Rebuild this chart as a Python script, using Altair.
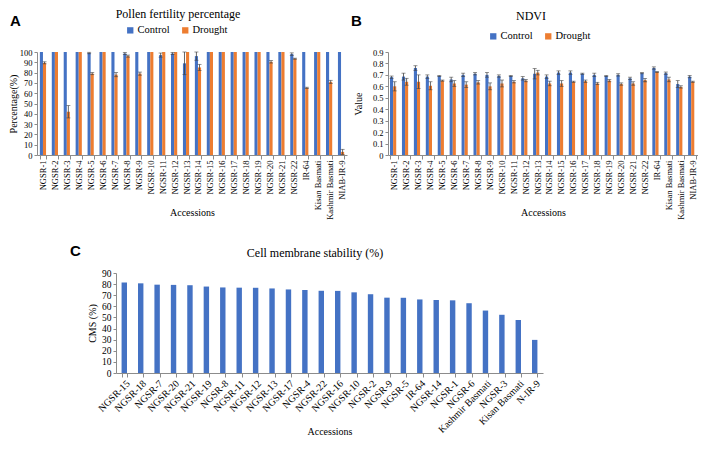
import altair as alt
import pandas as pd

# ---------------- data ----------------
accessions = [f"NGSR-{i}" for i in range(1, 23)] + ["IR-64", "Kisan Basmati", "Kashmir Basmati", "NIAB-IR-9"]
conditions = ["Control", "Drought"]

pollen_control = [100, 100, 100, 100, 99, 100, 100, 98.5, 100, 100, 97, 98.5, 89, 96,
                  100, 100, 100, 100, 100, 100, 100, 98, 100, 100, 100, 100]
pollen_control_err = [0, 0, 0, 0, 0.7, 0, 0, 1, 0, 0, 2, 1, 11, 4,
                      0, 0, 0, 0, 0, 0, 0, 1.2, 0, 0, 0, 0]
pollen_drought = [89.5, 100, 42, 100, 79, 100, 78, 96, 79, 100, 100, 100, 100, 85,
                  100, 100, 100, 100, 100, 90.5, 100, 93.5, 65.2, 100, 71, 3]
pollen_drought_err = [1, 0, 6, 0, 1, 0, 2, 1, 1.5, 0, 0, 0, 0, 3,
                      0, 0, 0, 0, 0, 1.2, 0, 0.5, 0.6, 0, 1.5, 2.5]

ndvi_control = [0.68, 0.685, 0.76, 0.685, 0.69, 0.66, 0.70, 0.71, 0.70, 0.69, 0.69, 0.67, 0.71,
                0.685, 0.72, 0.72, 0.71, 0.70, 0.69, 0.70, 0.67, 0.715, 0.76, 0.715, 0.62, 0.685]
ndvi_control_err = [0.01, 0.03, 0.02, 0.015, 0.005, 0.02, 0.015, 0.01, 0.02, 0.01, 0.005, 0.015, 0.045,
                    0.015, 0.015, 0.015, 0.005, 0.015, 0.005, 0.01, 0.01, 0.005, 0.01, 0.01, 0.03, 0.01]
ndvi_drought = [0.60, 0.64, 0.64, 0.605, 0.65, 0.625, 0.615, 0.635, 0.60, 0.625, 0.64, 0.65, 0.72,
                0.625, 0.625, 0.64, 0.645, 0.625, 0.65, 0.62, 0.625, 0.655, 0.725, 0.66, 0.595, 0.64]
ndvi_drought_err = [0.04, 0.03, 0.06, 0.035, 0.005, 0.025, 0.025, 0.015, 0.03, 0.03, 0.01, 0.01, 0.02,
                    0.02, 0.025, 0.005, 0.01, 0.01, 0.01, 0.01, 0.015, 0.015, 0.005, 0.02, 0.01, 0.005]

cms_accessions = ["NGSR-15", "NGSR-18", "NGSR-7", "NGSR-20", "NGSR-21", "NGSR-19", "NGSR-8",
                  "NGSR-11", "NGSR-12", "NGSR-13", "NGSR-17", "NGSR-4", "NGSR-22", "NGSR-16",
                  "NGSR-10", "NGSR-2", "NGSR-9", "NGSR-5", "IR-64", "NGSR-14", "NGSR-1",
                  "NGSR-6", "Kashmir Basmati", "NGSR-3", "Kisan Basmati", "N-IR-9"]
cms_values = [81.5, 80.7, 79.5, 79.3, 79.0, 77.8, 77.0, 76.8, 76.7, 76.1, 75.2, 74.7, 74.0, 73.9,
              72.6, 70.9, 67.8, 67.7, 66.2, 65.7, 65.4, 62.8, 56.2, 52.4, 47.7, 29.8]

BLUE = "#4472C4"
ORANGE = "#ED7D31"
SERIF = "Liberation Serif"
SANS = "Liberation Sans"
AXIS_GREY = "#8c8c8c"


def long_frame(ctrl, ctrl_err, drt, drt_err):
    rows = []
    for i, a in enumerate(accessions):
        for cond, v, e in (("Control", ctrl[i], ctrl_err[i]), ("Drought", drt[i], drt_err[i])):
            rows.append({"acc": a, "cond": cond, "val": v, "err": e, "lo": v - e, "hi": v + e})
    return pd.DataFrame(rows)


def label_layer(text, x, y, size, font, weight="normal", align="left"):
    return alt.Chart(pd.DataFrame({"t": [text]})).mark_text(
        font=font, fontSize=size, fontWeight=weight, align=align, baseline="middle", color="black"
    ).encode(text="t:N", x=alt.value(x), y=alt.value(y))


def grouped_panel(df, width, height, pad_inner, y_domain, y_values, y_format, y_title,
                  y_title_x, title, title_x, title_y, letter, letter_x, leg_x, leg_y):
    x_enc = alt.X(
        "acc:N", sort=accessions,
        scale=alt.Scale(paddingInner=pad_inner, paddingOuter=pad_inner / 2),
        axis=alt.Axis(title="Accessions", titleY=57, titleBaseline="middle", labelAngle=-90,
                      tickBand="extent", tickSize=4, labelPadding=1, labelFontSize=8.5,
                      labelOverlap=False),
    )
    xo = alt.XOffset("cond:N", sort=conditions, scale=alt.Scale(paddingInner=0))
    y_scale = alt.Scale(domain=y_domain, nice=False, zero=True)
    y_axis = alt.Axis(values=y_values, format=y_format, title=y_title, titleX=y_title_x,
                      titleY=height / 2, titleAngle=-90, titleAlign="center",
                      titleBaseline="middle", tickSize=3, labelPadding=2, labelFontSize=8.5,
                      labelOverlap=False)
    base = alt.Chart(df)
    bars = base.mark_bar().encode(
        x=x_enc, xOffset=xo, y=alt.Y("val:Q", scale=y_scale, axis=y_axis),
        color=alt.Color("cond:N", sort=conditions,
                        scale=alt.Scale(domain=conditions, range=[BLUE, ORANGE]),
                        legend=alt.Legend(orient="none", legendX=leg_x, legendY=leg_y,
                                          direction="horizontal", title=None, symbolType="square",
                                          symbolSize=40, symbolStrokeWidth=0, labelFont=SERIF,
                                          labelFontSize=10.5, labelOffset=2, columnPadding=10,
                                          padding=0)),
    )
    err = base.transform_filter(alt.datum.err > 0)
    rules = err.mark_rule(color="#404040", strokeWidth=0.8).encode(
        x=x_enc, xOffset=xo, y=alt.Y("lo:Q", scale=y_scale, axis=y_axis), y2="hi:Q")
    cap_hi = err.mark_tick(color="#404040", thickness=0.8, size=4, orient="horizontal").encode(
        x=x_enc, xOffset=xo, y=alt.Y("hi:Q", scale=y_scale, axis=y_axis))
    cap_lo = err.mark_tick(color="#404040", thickness=0.8, size=4, orient="horizontal").encode(
        x=x_enc, xOffset=xo, y=alt.Y("lo:Q", scale=y_scale, axis=y_axis))
    return alt.layer(
        bars, rules, cap_hi, cap_lo,
        label_layer(title, title_x, title_y, 12, SERIF, align="center"),
        label_layer(letter, letter_x, -31, 15, SANS, weight="bold"),
    ).properties(width=width, height=height)


pollen_df = long_frame(pollen_control, pollen_control_err, pollen_drought, pollen_drought_err)
ndvi_df = long_frame(ndvi_control, ndvi_control_err, ndvi_drought, ndvi_drought_err)

panel_a = grouped_panel(
    pollen_df, 310, 103, 0.48, [0, 100], list(range(0, 101, 10)), "d", "Percentage(%)", -24,
    "Pollen fertility percentage", 141, -38, "A", -27, 88, -27)

panel_b = grouped_panel(
    ndvi_df, 310, 103, 0.34, [0, 0.9], [0, 0.1, 0.2, 0.3, 0.4, 0.5, 0.6, 0.7, 0.8, 0.9], ".1~f",
    "Value", -30, "NDVI", 143, -36, "B", -37, 100, -21)

cms_df = pd.DataFrame({"acc": cms_accessions, "val": cms_values})
C_W, C_H = 427, 100
cms_bars = alt.Chart(cms_df).mark_bar(color=BLUE).encode(
    x=alt.X("acc:N", sort=cms_accessions,
            scale=alt.Scale(paddingInner=0.67, paddingOuter=0.34),
            axis=alt.Axis(title="Accessions", titleY=58, titleBaseline="middle", labelAngle=-45,
                          tickBand="extent", tickSize=4, labelPadding=1, labelFontSize=10,
                          labelOverlap=False)),
    y=alt.Y("val:Q", scale=alt.Scale(domain=[0, 90], nice=False),
            axis=alt.Axis(values=list(range(0, 91, 10)), title="CMS (%)", titleX=-24,
                          titleY=C_H / 2, titleAngle=-90, titleAlign="center",
                          titleBaseline="middle", tickSize=3, labelPadding=2, labelFontSize=9.5,
                          labelOverlap=False)),
)
panel_c = alt.layer(
    cms_bars,
    label_layer("Cell membrane stability (%)", 199, -20, 12, SERIF, align="center"),
    label_layer("C", -46, -22, 15, SANS, weight="bold"),
).properties(width=C_W, height=C_H)

spacer = alt.Chart(pd.DataFrame({"s": [0]})).mark_point(opacity=0).encode(
    x=alt.value(0), y=alt.value(0)).properties(width=79, height=C_H)

top_row = alt.hconcat(panel_a, panel_b, spacing=41, bounds="flush").resolve_scale(
    color="independent").resolve_legend(color="independent")
bottom_row = alt.hconcat(spacer, panel_c, spacing=0, bounds="flush")

chart = alt.vconcat(
    top_row, bottom_row, spacing=221, bounds="flush",
).properties(padding=0).configure_view(stroke=None).configure_axis(
    grid=False, domainColor=AXIS_GREY, tickColor=AXIS_GREY, domainWidth=1, tickWidth=1,
    labelFont=SERIF, titleFont=SERIF, labelColor="black", titleColor="black",
    titleFontWeight="normal", titleFontSize=10,
).configure_legend(
    labelFont=SERIF, labelFontSize=10.5, labelColor="black",
)

chart.save("out.html", embed_options={"renderer": "svg", "actions": False})
